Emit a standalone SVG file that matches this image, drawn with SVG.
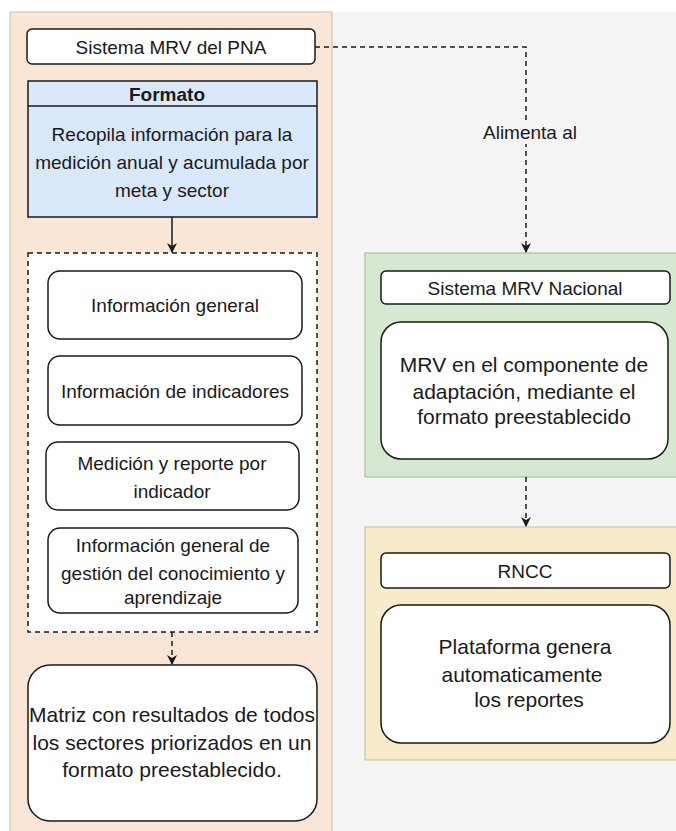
<svg xmlns="http://www.w3.org/2000/svg" width="676" height="831" viewBox="0 0 676 831">
<defs>
<style>
text{font-family:"Liberation Sans",Arial,sans-serif;font-size:19px;fill:#1a1a1a;text-anchor:middle;}
.big{font-size:21px;}
.box{fill:#ffffff;stroke:#1a1a1a;stroke-width:1.5;}
.dash{fill:none;stroke:#1a1a1a;stroke-width:1.5;stroke-dasharray:5 4;}
.solid{fill:none;stroke:#1a1a1a;stroke-width:1.5;}
</style>
<marker id="ah" viewBox="0 0 10 10" refX="9" refY="5" markerWidth="10" markerHeight="10" markerUnits="userSpaceOnUse" orient="auto">
<path d="M0,0 L10,5 L0,10 L3,5 Z" fill="#1a1a1a"/>
</marker>
</defs>
<rect x="0" y="0" width="676" height="831" fill="#ffffff"/>
<rect x="10" y="12" width="666" height="819" fill="#f5f5f5"/>
<g id="panel-pna">
<rect x="10" y="12" width="322" height="830" fill="#fae6d6" stroke="#cbbcb0" stroke-width="1"/>
</g>
<g id="panel-nacional">
<rect x="365" y="253" width="320" height="224" fill="#d6e8d2" stroke="#9fb896" stroke-width="1"/>
</g>
<g id="panel-rncc">
<rect x="365" y="527" width="320" height="233" fill="#f8ebc9" stroke="#c8bc9c" stroke-width="1"/>
</g>
<g id="sistema-pna">
<rect class="box" x="27" y="29" width="288" height="35" rx="5"/>
<text x="171" y="54">Sistema MRV del PNA</text>
</g>
<g id="formato">
<rect x="28" y="81" width="289" height="136" fill="#dae8fc" stroke="#1a1a1a" stroke-width="1.5"/>
<line x1="28" y1="106" x2="317" y2="106" stroke="#1a1a1a" stroke-width="1.5"/>
<text x="167" y="101" font-weight="bold" font-size="21">Formato</text>
<text x="172" y="141">Recopila información para la</text>
<text x="172" y="169">medición anual y acumulada por</text>
<text x="172" y="197">meta y sector</text>
</g>
<g id="grupo-info">
<rect x="28" y="253" width="289" height="379" fill="#ffffff" stroke="#1a1a1a" stroke-width="1.5" stroke-dasharray="5 4"/>
</g>
<g id="info-general">
<rect class="box" x="48" y="271" width="254" height="68" rx="12"/>
<text x="175" y="312">Información general</text>
</g>
<g id="info-indicadores">
<rect class="box" x="48" y="356" width="254" height="69" rx="12"/>
<text x="175" y="398">Información de indicadores</text>
</g>
<g id="medicion">
<rect class="box" x="46" y="442" width="253" height="68" rx="12"/>
<text x="172" y="470">Medición y reporte por</text>
<text x="172" y="498">indicador</text>
</g>
<g id="gestion">
<rect class="box" x="48" y="528" width="250" height="85" rx="12"/>
<text x="173" y="552">Información general de</text>
<text x="173" y="580">gestión del conocimiento y</text>
<text x="173" y="604">aprendizaje</text>
</g>
<g id="matriz">
<rect class="box" x="28" y="665" width="289" height="156" rx="22"/>
<text class="big" x="172" y="722">Matriz con resultados de todos</text>
<text class="big" x="172" y="750">los sectores priorizados en un</text>
<text class="big" x="172" y="777">formato preestablecido.</text>
</g>
<g id="sistema-nacional">
<rect class="box" x="381" y="271" width="289" height="33" rx="5"/>
<text x="525" y="295">Sistema MRV Nacional</text>
</g>
<g id="mrv-componente">
<rect class="box" x="381" y="322" width="287" height="137" rx="20"/>
<text class="big" x="524" y="372">MRV en el componente de</text>
<text class="big" x="524" y="399">adaptación, mediante el</text>
<text class="big" x="524" y="424">formato preestablecido</text>
</g>
<g id="rncc">
<rect class="box" x="381" y="553" width="289" height="35" rx="5"/>
<text x="525" y="578">RNCC</text>
</g>
<g id="plataforma">
<rect class="box" x="381" y="605" width="289" height="138" rx="20"/>
<text class="big" x="525" y="654">Plataforma genera</text>
<text class="big" x="522" y="682">automaticamente</text>
<text class="big" x="529" y="707">los reportes</text>
</g>
<g id="connectors">
<path class="solid" d="M172,217 L172,252" marker-end="url(#ah)"/>
<path class="dash" d="M315,47 L526,47 L526,252" marker-end="url(#ah)"/>
<rect x="486" y="120" width="88" height="24" fill="#f5f5f5"/>
<text x="530" y="139" font-size="16">Alimenta al</text>
<path class="dash" d="M172,632 L172,664" marker-end="url(#ah)"/>
<path class="dash" d="M526,477 L526,526" marker-end="url(#ah)"/>
</g>
</svg>
